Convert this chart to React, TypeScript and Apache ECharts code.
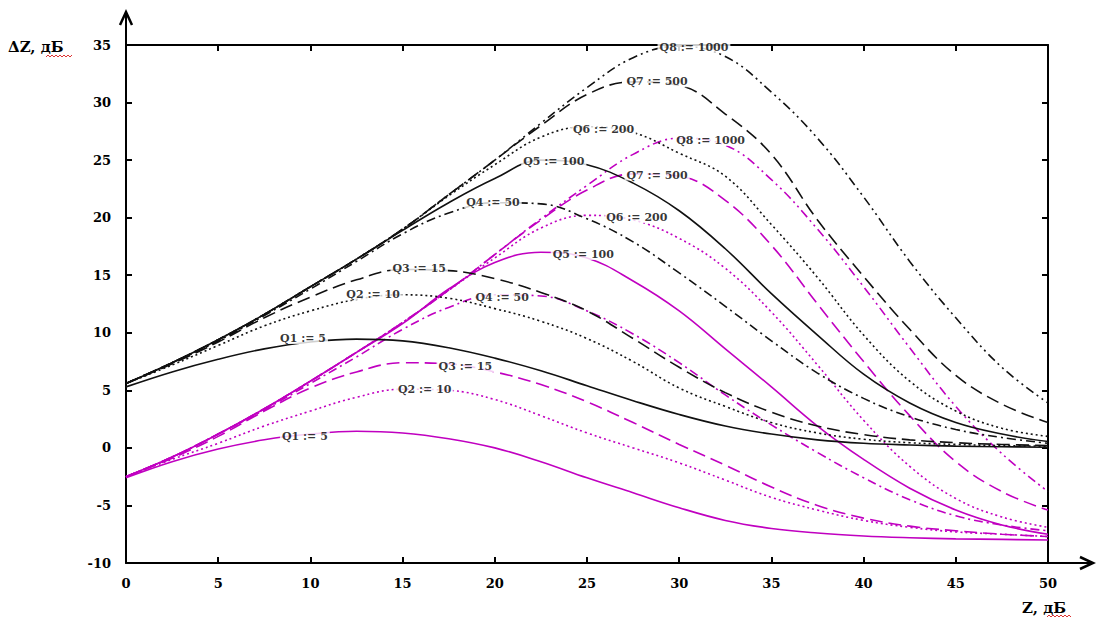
import React, { useEffect, useRef } from "react";
import * as echarts from "echarts";

// Z values (x) at which the curves were read
const zValues = [0, 2.5, 5, 7.5, 10, 12.5, 15, 17.5, 20, 22.5, 25, 27.5, 30, 32.5, 35, 37.5, 40, 42.5, 45, 47.5, 50];

// Black curves
const blackQ1 = [5.3, 6.6, 7.7, 8.6, 9.2, 9.45, 9.3, 8.7, 7.8, 6.7, 5.4, 4.1, 2.9, 1.9, 1.2, 0.7, 0.4, 0.25, 0.15, 0.1, 0.05];
const blackQ2 = [5.6, 7.2, 8.9, 10.6, 11.9, 12.9, 13.3, 13.0, 12.1, 11.0, 9.5, 7.5, 5.2, 3.6, 2.2, 1.3, 0.75, 0.45, 0.3, 0.2, 0.15];
const blackQ3 = [5.6, 7.3, 9.2, 11.3, 13.1, 14.6, 15.5, 15.4, 14.7, 13.5, 11.9, 9.5, 7.0, 4.8, 3.1, 1.9, 1.15, 0.7, 0.45, 0.3, 0.2];
const blackQ4 = [5.6, 7.4, 9.3, 11.5, 13.8, 16.2, 18.6, 20.4, 21.3, 21.2, 19.9, 17.9, 15.2, 12.3, 9.3, 6.5, 4.3, 2.7, 1.6, 0.9, 0.4];
const blackQ5 = [5.6, 7.4, 9.4, 11.6, 14.0, 16.4, 18.9, 21.3, 23.4, 25.0, 24.6, 23.0, 20.6, 17.3, 13.4, 9.8, 6.4, 3.9, 2.2, 1.2, 0.55];
const blackQ6 = [5.6, 7.4, 9.4, 11.6, 14.0, 16.4, 19.0, 21.9, 24.6, 27.0, 27.9, 27.4, 25.6, 23.6, 19.4, 14.8, 9.8, 5.8, 3.2, 1.7, 1.0];
const blackQ7 = [5.6, 7.4, 9.4, 11.6, 14.0, 16.4, 19.0, 22.0, 25.0, 28.0, 30.7, 31.8, 31.5, 29.0, 25.5, 19.8, 14.9, 10.3, 6.3, 3.8, 2.2];
const blackQ8 = [5.6, 7.4, 9.4, 11.6, 14.0, 16.4, 19.0, 22.0, 25.0, 28.2, 31.3, 33.9, 34.9, 34.0, 30.9, 26.9, 21.8, 16.2, 11.3, 7.0, 3.9];

// Magenta curves
const magQ1 = [-2.6, -1.2, -0.1, 0.7, 1.2, 1.45, 1.3, 0.8, 0.0, -1.2, -2.6, -3.9, -5.2, -6.3, -7.0, -7.4, -7.65, -7.8, -7.9, -7.95, -8.0];
const magQ2 = [-2.5, -1.0, 0.4, 1.9, 3.2, 4.4, 5.1, 5.0, 4.2, 2.8, 1.3, 0.0, -1.3, -2.8, -4.3, -5.4, -6.3, -6.9, -7.3, -7.5, -7.7];
const magQ3 = [-2.5, -0.9, 1.0, 3.2, 5.2, 6.6, 7.4, 7.3, 6.6, 5.5, 4.0, 2.2, 0.3, -1.5, -3.4, -5.0, -6.1, -6.8, -7.2, -7.5, -7.7];
const magQ4 = [-2.5, -0.8, 1.2, 3.3, 5.6, 7.9, 10.3, 12.2, 13.3, 13.2, 11.9, 9.9, 7.4, 4.6, 2.0, -0.4, -2.6, -4.5, -5.9, -6.7, -7.2];
const magQ5 = [-2.5, -0.8, 1.2, 3.4, 5.8, 8.3, 10.8, 13.8, 16.1, 17.0, 16.5, 14.5, 11.9, 8.6, 5.3, 1.9, -1.0, -3.5, -5.4, -6.7, -7.5];
const magQ6 = [-2.5, -0.8, 1.2, 3.4, 5.8, 8.3, 10.9, 13.7, 16.5, 19.1, 20.2, 19.8, 18.2, 15.6, 11.8, 7.2, 2.4, -1.6, -4.4, -6.0, -6.9];
const magQ7 = [-2.5, -0.8, 1.2, 3.4, 5.8, 8.3, 10.9, 13.7, 16.8, 19.8, 22.4, 23.8, 23.6, 21.5, 17.6, 12.5, 7.5, 2.8, -1.2, -3.8, -5.4];
const magQ8 = [-2.5, -0.8, 1.2, 3.4, 5.8, 8.3, 10.9, 13.7, 16.8, 19.9, 22.8, 25.5, 26.9, 26.3, 23.3, 19.0, 14.0, 8.7, 3.6, -0.5, -3.8];

// Curve labels
const qNames = ["Q1 := 5", "Q2 := 10", "Q3 := 15", "Q4 := 50", "Q5 := 100", "Q6 := 200", "Q7 := 500", "Q8 := 1000"];
const blackLabelX = [9.6, 13.4, 15.9, 19.9, 23.2, 25.9, 28.8, 30.8];
const blackLabelY = [9.5, 13.3, 15.55, 21.3, 24.85, 27.7, 31.8, 34.8];
const magLabelX = [9.7, 16.2, 18.4, 20.4, 24.8, 27.7, 28.8, 31.7];
const magLabelY = [1.0, 5.05, 7.05, 13.1, 16.8, 20.0, 23.7, 26.7];

// Axis ticks
const xMin = 0, xMax = 50, xStep = 5;
const yMin = -10, yMax = 35, yStep = 5;

const BLACK = "#111111";
const MAGENTA = "#c000c0";
const dashes: (number[] | string)[] = [
  "solid",
  [2, 3],
  [13, 6],
  [9, 4, 2, 4],
  "solid",
  [2, 3],
  [13, 6],
  [9, 4, 2, 4, 2, 4],
];

export default function App() {
  const ref = useRef<HTMLDivElement>(null);
  useEffect(() => {
    if (!ref.current) return;
    const chart = echarts.init(ref.current, undefined, { renderer: "svg" });
    const blacks = [blackQ1, blackQ2, blackQ3, blackQ4, blackQ5, blackQ6, blackQ7, blackQ8];
    const mags = [magQ1, magQ2, magQ3, magQ4, magQ5, magQ6, magQ7, magQ8];
    const mkLine = (arr: number[], color: string, i: number, prefix: string) => ({
      name: prefix + qNames[i],
      type: "line",
      data: zValues.map((z, k) => [z, arr[k]]),
      smooth: 0.4,
      showSymbol: false,
      symbol: "none",
      silent: true,
      lineStyle: { color, width: 1.6, type: dashes[i] },
      z: 2,
    });
    const series: any[] = [];
    mags.forEach((a, i) => series.push(mkLine(a, MAGENTA, i, "m ")));
    blacks.forEach((a, i) => series.push(mkLine(a, BLACK, i, "b ")));
    const labelData = [
      ...qNames.map((n, i) => ({ name: n, value: [blackLabelX[i], blackLabelY[i]] })),
      ...qNames.map((n, i) => ({ name: n, value: [magLabelX[i], magLabelY[i]] })),
    ];
    series.push({
      type: "scatter",
      data: labelData,
      symbolSize: 1,
      itemStyle: { color: "rgba(0,0,0,0)" },
      silent: true,
      z: 10,
      label: {
        show: true,
        position: "inside",
        formatter: "{b}",
        color: "#000",
        fontFamily: "DejaVu Serif",
        fontWeight: "bold",
        fontSize: 11,
        backgroundColor: "#fff",
        padding: [0, 2],
      },
    });

    const tickLabel = {
      color: "#000",
      fontFamily: "DejaVu Serif",
      fontWeight: "bold",
      fontSize: 13,
    };
    const axisCommon = {
      type: "value",
      axisLine: { show: true, onZero: false, lineStyle: { color: "#000", width: 2 } },
      axisTick: { show: true, inside: true, length: 6, lineStyle: { color: "#000", width: 2 } },
      splitLine: { show: false },
    };

    chart.setOption({
      animation: false,
      backgroundColor: "#fff",
      grid: { left: 126, right: 49, top: 45, bottom: 54, containLabel: false },
      xAxis: [
        { ...axisCommon, min: xMin, max: xMax, interval: xStep, position: "bottom",
          axisLabel: { ...tickLabel, margin: 14 } },
        { ...axisCommon, min: xMin, max: xMax, interval: xStep, position: "top",
          axisLabel: { show: false } },
      ],
      yAxis: [
        { ...axisCommon, min: yMin, max: yMax, interval: yStep, position: "left",
          axisLabel: { ...tickLabel, margin: 15 } },
        { ...axisCommon, min: yMin, max: yMax, interval: yStep, position: "right",
          axisLabel: { show: false } },
      ],
      series,
      graphic: [
        { type: "line", shape: { x1: 126, y1: 45, x2: 126, y2: 12 }, style: { stroke: "#000", lineWidth: 2 } },
        { type: "polyline", shape: { points: [[120, 25], [126, 12], [132, 25]] }, style: { stroke: "#000", lineWidth: 2.5, fill: null } },
        { type: "line", shape: { x1: 1048, y1: 563, x2: 1093, y2: 563 }, style: { stroke: "#000", lineWidth: 2 } },
        { type: "polyline", shape: { points: [[1080, 557], [1093, 563], [1080, 569]] }, style: { stroke: "#000", lineWidth: 2.5, fill: null } },
        { type: "text", x: 8, y: 47, style: { text: "ΔZ, дБ", fill: "#000", font: "bold 15px 'DejaVu Serif'", verticalAlign: "middle" } },
        { type: "text", x: 1022, y: 608, style: { text: "Z, дБ", fill: "#000", font: "bold 15px 'DejaVu Serif'", verticalAlign: "middle" } },
        { type: "polyline", shape: { points: [[46, 57], [48, 55], [50, 57], [52, 55], [54, 57], [56, 55], [58, 57], [60, 55], [62, 57], [64, 55], [66, 57], [68, 55], [70, 57], [72, 55]] }, style: { stroke: "#d33", lineWidth: 1, fill: null } },
        { type: "polyline", shape: { points: [[1047, 617], [1049, 615], [1051, 617], [1053, 615], [1055, 617], [1057, 615], [1059, 617], [1061, 615], [1063, 617], [1065, 615], [1067, 617], [1069, 615], [1071, 617]] }, style: { stroke: "#d33", lineWidth: 1, fill: null } },
      ],
    });
    return () => chart.dispose();
  }, []);
  return (
    <div
      ref={ref}
      style={{ position: "fixed", left: 0, top: 0, width: 1097, height: 617, background: "#fff" }}
    />
  );
}
